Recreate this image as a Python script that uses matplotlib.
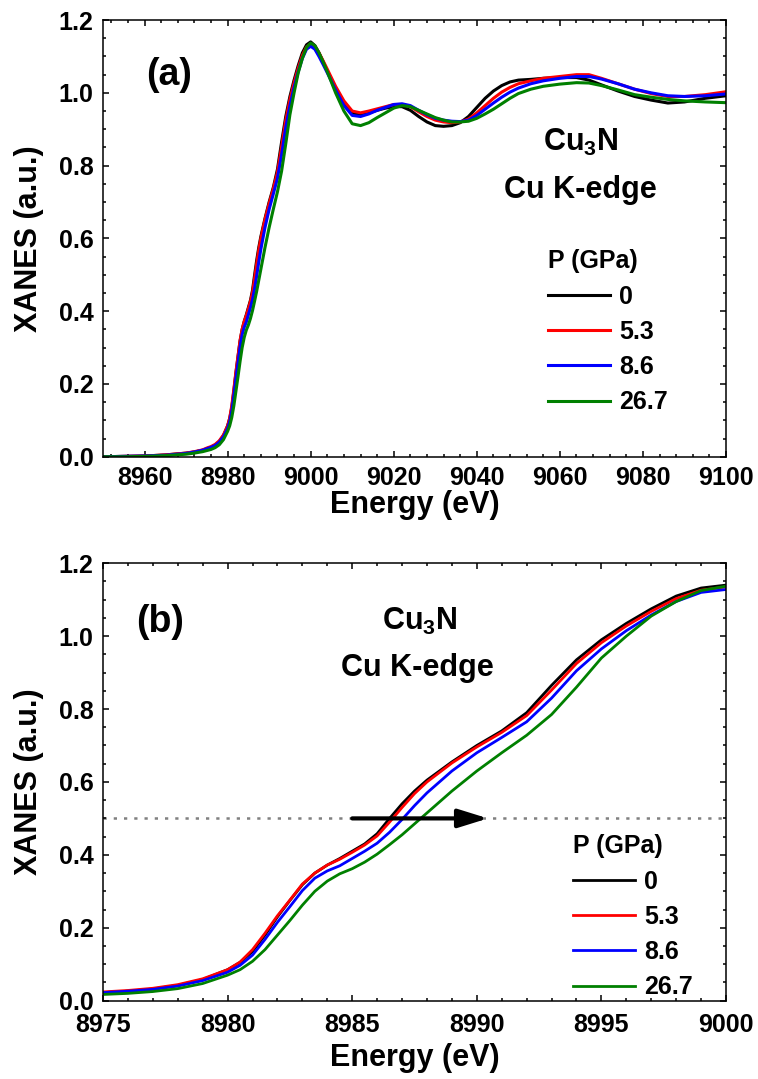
import matplotlib
matplotlib.use("Agg")
import matplotlib.pyplot as plt
from matplotlib.ticker import MultipleLocator

plt.rcParams['font.family'] = ['Liberation Sans', 'DejaVu Sans']
plt.rcParams['font.weight'] = 'bold'
plt.rcParams['mathtext.fontset'] = 'custom'
plt.rcParams['mathtext.rm'] = 'Liberation Sans:bold'
plt.rcParams['mathtext.bf'] = 'Liberation Sans:bold'
plt.rcParams['mathtext.it'] = 'Liberation Sans:bold:italic'

# ---------------- data ----------------
energy = [8950, 8955, 8960, 8965, 8970, 8972, 8974, 8975, 8976, 8977, 8978, 8979, 8980,
          8980.5, 8981, 8981.5, 8982, 8982.5, 8983, 8983.5, 8984, 8984.5, 8985, 8985.5,
          8986, 8986.5, 8987, 8987.5, 8988, 8989, 8990, 8991, 8992, 8993, 8994, 8995,
          8996, 8997, 8998, 8999, 9000, 9001, 9002, 9003, 9004, 9006, 9008, 9010, 9012,
          9014, 9016, 9018, 9020, 9022, 9024, 9026, 9028, 9030, 9032, 9034, 9036, 9038,
          9040, 9042, 9044, 9046, 9048, 9050, 9053, 9056, 9060, 9064, 9067, 9070, 9074,
          9078, 9082, 9086, 9090, 9095, 9100]

xanes_0 = [0.000, 0.001, 0.002, 0.005, 0.010, 0.013, 0.018, 0.022, 0.026, 0.032, 0.042, 0.058, 0.085,
           0.105, 0.135, 0.180, 0.230, 0.275, 0.318, 0.350, 0.372, 0.390, 0.410, 0.430,
           0.458, 0.500, 0.540, 0.575, 0.605, 0.655, 0.700, 0.740, 0.790, 0.865, 0.935, 0.990,
           1.035, 1.075, 1.110, 1.132, 1.140, 1.130, 1.110, 1.085, 1.060, 1.010, 0.970, 0.945, 0.940,
           0.945, 0.952, 0.958, 0.962, 0.962, 0.952, 0.935, 0.920, 0.910, 0.908, 0.910, 0.918, 0.935,
           0.960, 0.985, 1.005, 1.020, 1.030, 1.035, 1.037, 1.040, 1.042, 1.042, 1.035, 1.022, 1.005,
           0.990, 0.980, 0.972, 0.975, 0.985, 0.992]

xanes_5_3 = [0.000, 0.001, 0.002, 0.005, 0.010, 0.014, 0.019, 0.024, 0.028, 0.034, 0.044, 0.060, 0.085,
             0.106, 0.140, 0.185, 0.233, 0.276, 0.320, 0.350, 0.372, 0.388, 0.407, 0.427,
             0.452, 0.490, 0.530, 0.568, 0.600, 0.652, 0.696, 0.736, 0.782, 0.852, 0.925, 0.982,
             1.028, 1.068, 1.103, 1.126, 1.135, 1.128, 1.110, 1.088, 1.065, 1.018, 0.978, 0.950, 0.945,
             0.950, 0.956, 0.962, 0.968, 0.968, 0.962, 0.948, 0.935, 0.925, 0.920, 0.918, 0.920, 0.928,
             0.945, 0.965, 0.985, 1.002, 1.015, 1.025, 1.033, 1.040, 1.045, 1.050, 1.050, 1.040, 1.025,
             1.010, 0.998, 0.990, 0.990, 0.995, 1.003]

xanes_8_6 = [0.000, 0.001, 0.002, 0.004, 0.009, 0.013, 0.018, 0.022, 0.026, 0.031, 0.040, 0.055, 0.078,
             0.097, 0.125, 0.168, 0.215, 0.258, 0.302, 0.336, 0.356, 0.370, 0.390, 0.410,
             0.432, 0.462, 0.497, 0.535, 0.570, 0.630, 0.680, 0.722, 0.765, 0.830, 0.905, 0.965,
             1.015, 1.058, 1.095, 1.120, 1.128, 1.120, 1.100, 1.078, 1.055, 1.008, 0.965, 0.938, 0.935,
             0.942, 0.952, 0.960, 0.968, 0.970, 0.965, 0.952, 0.940, 0.930, 0.925, 0.922, 0.921, 0.925,
             0.938, 0.955, 0.972, 0.988, 1.002, 1.013, 1.025, 1.033, 1.040, 1.045, 1.045, 1.038, 1.025,
             1.010, 1.000, 0.992, 0.990, 0.992, 0.997]

xanes_26_7 = [0.000, 0.000, 0.001, 0.003, 0.007, 0.010, 0.014, 0.017, 0.020, 0.025, 0.033, 0.047, 0.070,
              0.085, 0.108, 0.140, 0.180, 0.220, 0.262, 0.300, 0.328, 0.348, 0.362, 0.380,
              0.402, 0.428, 0.455, 0.485, 0.515, 0.575, 0.630, 0.680, 0.728, 0.785, 0.860, 0.940,
              1.000, 1.055, 1.095, 1.125, 1.137, 1.130, 1.110, 1.085, 1.058, 1.000, 0.950, 0.915, 0.910,
              0.918, 0.932, 0.945, 0.958, 0.965, 0.962, 0.952, 0.942, 0.932, 0.925, 0.920, 0.920, 0.922,
              0.930, 0.942, 0.955, 0.970, 0.985, 0.998, 1.010, 1.018, 1.024, 1.028, 1.027, 1.020, 1.008,
              0.995, 0.988, 0.982, 0.978, 0.975, 0.973]

pressure_labels = ['0', '5.3', '8.6', '26.7']
series = [xanes_0, xanes_5_3, xanes_8_6, xanes_26_7]
colors = ['#000000', '#ff0000', '#0000ff', '#008000']

half_edge_level = 0.5
arrow_start = 8985.0
arrow_end = 8990.45

# ---------------- figure ----------------
fig = plt.figure(figsize=(7.58, 10.79), dpi=100)
ax1 = fig.add_axes([0.1359, 0.5767, 0.8219, 0.4047])
ax2 = fig.add_axes([0.1359, 0.0726, 0.8219, 0.4054])

def style(ax, xmaj, xmin, xpad):
    ax.xaxis.set_major_locator(MultipleLocator(xmaj))
    ax.xaxis.set_minor_locator(MultipleLocator(xmin))
    ax.yaxis.set_major_locator(MultipleLocator(0.2))
    ax.yaxis.set_minor_locator(MultipleLocator(0.05))
    ax.tick_params(which='both', direction='in', top=True, right=True, width=1.1)
    ax.tick_params(which='major', length=4.5, labelsize=18, pad=7)
    ax.tick_params(axis='x', which='major', pad=xpad)
    ax.tick_params(which='minor', length=2.5)
    for s in ax.spines.values():
        s.set_linewidth(1.1)
    for lab in ax.get_xticklabels() + ax.get_yticklabels():
        lab.set_fontweight('bold')
    ax.yaxis.set_major_formatter(matplotlib.ticker.FormatStrFormatter('%.1f'))
    ax.set_ylabel('XANES (a.u.)', fontsize=22, fontweight='bold')
    ax.set_xlabel('Energy (eV)', fontsize=22, fontweight='bold')

def add_legend(ax, anchor):
    leg = ax.legend(loc='upper left', bbox_to_anchor=anchor, frameon=False,
                    title='P (GPa)', fontsize=18, title_fontsize=18, handlelength=2.5,
                    handletextpad=0.35, labelspacing=0.45, borderpad=0, borderaxespad=0,
                    alignment='left')
    leg.get_title().set_fontweight('bold')
    for t in leg.get_texts():
        t.set_fontweight('bold')
    return leg

# panel (a)
for y, c, lab in zip(series, colors, pressure_labels):
    ax1.plot(energy, y, color=c, lw=2.2, label=lab)
ax1.set_xlim(8950, 9100)
ax1.set_ylim(0, 1.2)
style(ax1, 20, 4, 7)
ax1.yaxis.set_label_coords(-0.095, 0.5)
ax1.xaxis.set_label_coords(0.5, -0.076)
ax1.text(8966, 1.05, '(a)', fontsize=27, fontweight='bold', ha='center', va='center')
ax1.text(9065, 0.865, r'Cu$_\mathregular{3}$N', fontsize=22, fontweight='bold', ha='center', va='center')
ax1.text(9065, 0.733, 'Cu K-edge', fontsize=22, fontweight='bold', ha='center', va='center')
add_legend(ax1, (0.714, 0.475))

# panel (b)
for y, c, lab in zip(series, colors, pressure_labels):
    ax2.plot(energy, y, color=c, lw=2.0, label=lab)
ax2.set_xlim(8975, 9000)
ax2.set_ylim(0, 1.2)
style(ax2, 5, 1, 9)
ax2.yaxis.set_label_coords(-0.095, 0.5)
ax2.xaxis.set_label_coords(0.5, -0.097)
ax2.axhline(half_edge_level, color='#808080', lw=1.8, ls=(0, (1.3, 2.8)), zorder=1)
ax2.annotate('', xy=(arrow_end, half_edge_level), xytext=(arrow_start, half_edge_level),
             arrowprops=dict(arrowstyle='-|>,head_length=0.9,head_width=0.28', mutation_scale=20,
                             lw=3, color='black', shrinkA=0, shrinkB=0), zorder=5)
ax2.text(8977.3, 1.04, '(b)', fontsize=27, fontweight='bold', ha='center', va='center')
ax2.text(8987.7, 1.04, r'Cu$_\mathregular{3}$N', fontsize=22, fontweight='bold', ha='center', va='center')
ax2.text(8987.6, 0.913, 'Cu K-edge', fontsize=22, fontweight='bold', ha='center', va='center')
add_legend(ax2, (0.754, 0.38))

fig.savefig('out.png', dpi=100)
